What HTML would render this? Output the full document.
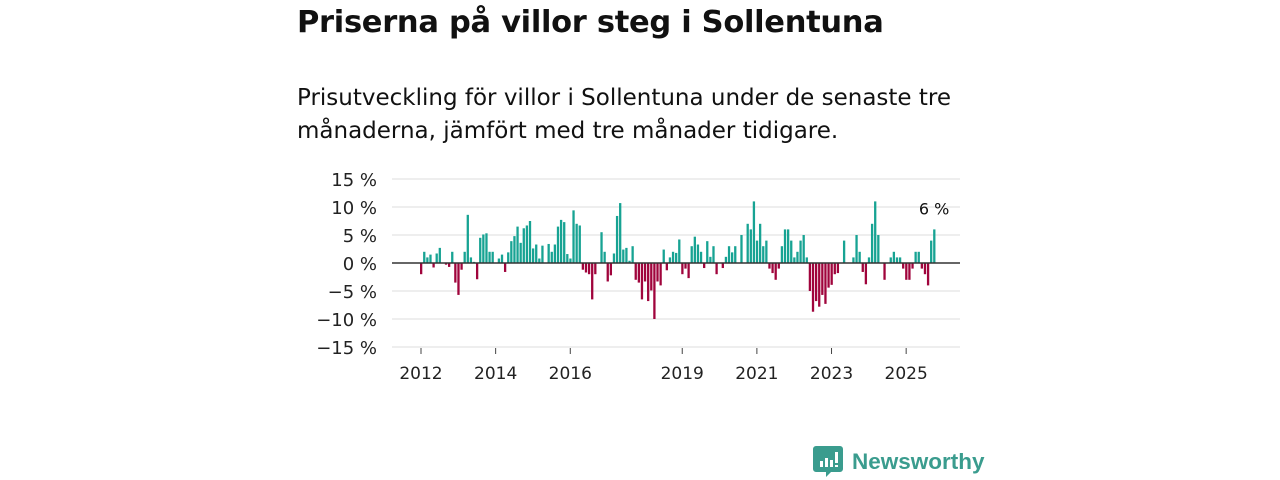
<!DOCTYPE html>
<html><head><meta charset="utf-8"><style>
body{margin:0;background:#fff;width:1280px;height:480px;overflow:hidden;font-family:"Liberation Sans","DejaVu Sans",sans-serif;color:#111}
h1{position:absolute;left:297px;top:5px;margin:0;font-family:"DejaVu Sans",sans-serif;font-size:30.5px;font-weight:bold;letter-spacing:-0.3px}
p{position:absolute;left:297px;top:82px;margin:0;font-family:"DejaVu Sans",sans-serif;font-size:23px;line-height:33px;width:700px}
svg{position:absolute;left:0;top:0}
</style></head><body>
<h1>Priserna på villor steg i Sollentuna</h1>
<p>Prisutveckling för villor i Sollentuna under de senaste tre månaderna, jämfört med tre månader tidigare.</p>
<svg id="c" width="1280" height="480"></svg>
<script>
const startYear = 2012;
const values = [-2,2,1,1.5,-0.8,1.7,2.7,0,-0.3,-0.7,2,-3.5,-5.7,-1.2,2,8.6,1,0.2,-2.9,4.5,5.1,5.3,2,2,0,0.8,1.5,-1.6,1.9,3.9,4.8,6.5,3.6,6.2,6.7,7.5,2.6,3.3,0.8,3.1,0,3.4,2,3.3,6.5,7.7,7.3,1.6,0.8,9.4,7,6.7,-1.2,-1.7,-2,-6.5,-2,0,5.5,2,-3.3,-2.2,1.7,8.4,10.7,2.4,2.7,0.4,3,-3,-3.5,-6.5,-3.3,-6.8,-4.9,-10,-3.3,-4,2.4,-1.3,1,2,1.8,4.2,-2,-1,-2.7,3,4.7,3.3,2,-0.9,3.9,1.1,3,-2,0,-0.9,1.1,3,1.9,3,0,5,0,7,6,11,4,7,3,4,-1,-1.8,-3,-1,3,6,6,4,1,2,4,5,1,-5,-8.7,-6.8,-7.8,-5.7,-7.3,-4.4,-3.9,-2,-1.8,0,4,0,0,1,5,2,-1.6,-3.8,1,7,11,5,0,-3,0,1,2,1,1,-1,-3,-3,-1,2,2,-1,-2,-4,4,6];
const yTicks = [15,10,5,0,-5,-10,-15];
const yTickLabels = ["15 %","10 %","5 %","0 %","\u22125 %","\u221210 %","\u221215 %"];
const xTickYears = [2012,2014,2016,2019,2021,2023,2025];
const lastLabel = "6 %";
const NS="http://www.w3.org/2000/svg", svg=document.getElementById('c');
const y = v => 263 - v*5.6;
const x = i => 420 + i*3.11;
function mk(t,a){const e=document.createElementNS(NS,t);for(const k in a)e.setAttribute(k,a[k]);svg.appendChild(e);return e;}
yTicks.forEach((t,k)=>{
  if(t!==0){const g=mk('line',{x1:392,x2:960,y1:y(t),y2:y(t),stroke:'#ddd','stroke-width':1});
  
  }
  const l=mk('text',{x:377,y:y(t)+7,'text-anchor':'end','font-size':18,fill:'#222','font-family':'DejaVu Sans, sans-serif'});
  l.textContent=yTickLabels[k];
  
  
});
xTickYears.forEach(yr=>{
  const i=(yr-startYear)*12;
  const tk=mk('line',{x1:x(i)+1,x2:x(i)+1,y1:348,y2:354,stroke:'#444','stroke-width':1});
  
  
  const l=mk('text',{x:x(i)+1,y:379,'text-anchor':'middle','font-size':17,fill:'#222','font-family':'DejaVu Sans, sans-serif'});
  l.textContent=yr;
  
  
});
values.forEach((v,i)=>{
  if(v===0)return;
  const r=mk('rect',{x:x(i),y:Math.min(y(v),263),width:2.3,height:Math.abs(y(v)-263),fill:v>0?'#17a393':'#a0043c'});
  
  
});
const z=mk('line',{x1:392,x2:960,y1:263,y2:263,stroke:'#333','stroke-width':1.5});


const li=values.length-1;
const lt=mk('text',{x:x(li)+1,y:y(values[li])-15,'text-anchor':'middle','font-size':16,fill:'#111','font-family':'DejaVu Sans, sans-serif'});
lt.textContent=lastLabel;


</script>
<svg width="1280" height="480" style="pointer-events:none">
<path d="M816 446 h24 a3 3 0 0 1 3 3 v20 a3 3 0 0 1 -3 3 h-9 l-5 5 v-5 h-10 a3 3 0 0 1 -3 -3 v-20 a3 3 0 0 1 3 -3z" fill="#3a9c8e"/>
<rect x="820" y="461" width="3" height="6" fill="#fff"/><rect x="825" y="458" width="3" height="9" fill="#fff"/><rect x="830" y="460" width="3" height="7" fill="#fff"/><rect x="835" y="452" width="3" height="11" fill="#fff"/><rect x="835" y="465" width="3" height="2" fill="#fff"/>
<text x="852" y="469" font-size="22.5" font-weight="bold" fill="#3a9c8e" font-family="Liberation Sans, sans-serif">Newsworthy</text>
</svg>
</body></html>
